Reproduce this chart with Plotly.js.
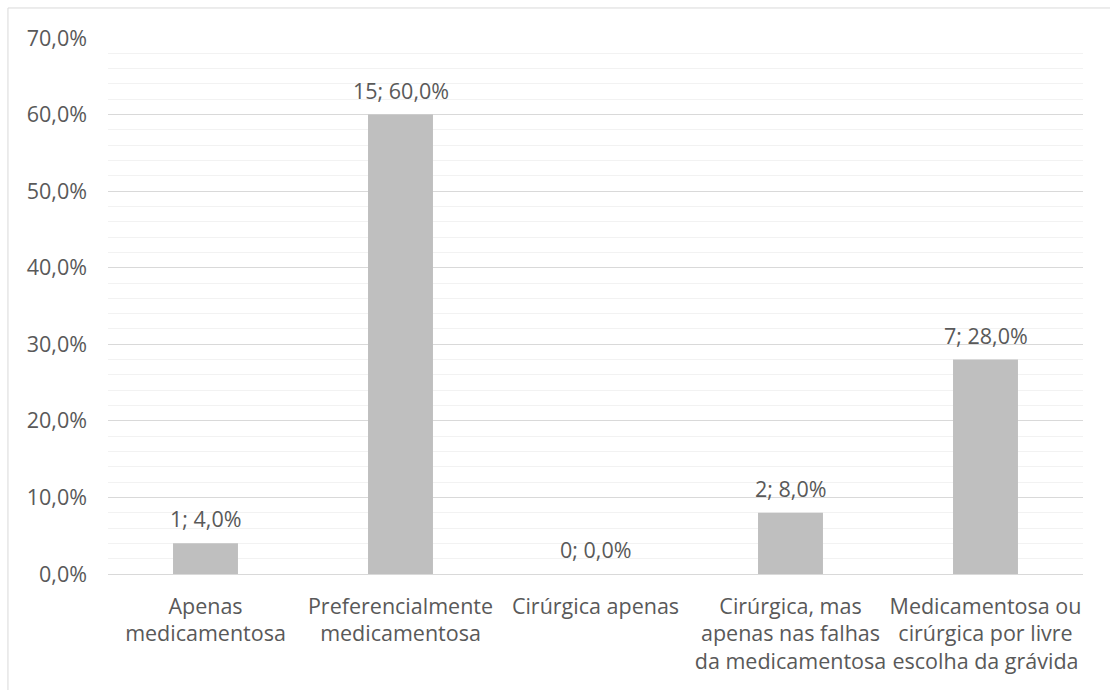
<!DOCTYPE html>
<html>
<head>
<meta charset="utf-8">
<script src="https://cdn.plot.ly/plotly-3.0.1.min.js"></script>
<style>
html,body{margin:0;padding:0;background:#fff;}
#chart{width:1110px;height:690px;}
</style>
</head>
<body>
<div id="chart"></div>
<script>
const categories = [
  "Apenas<br>medicamentosa",
  "Preferencialmente<br>medicamentosa",
  "Cirúrgica apenas",
  "Cirúrgica, mas<br>apenas nas falhas<br>da medicamentosa",
  "Medicamentosa ou<br>cirúrgica por livre<br>escolha da grávida"
];
const counts = [1, 15, 0, 2, 7];
const percents = [0.04, 0.60, 0.00, 0.08, 0.28];

const labels = counts.map((c, i) => c + "; " + (percents[i] * 100).toFixed(1).replace(".", ",") + "%");

const textColor = "#595959";
const fontFam = "'Open Sans', sans-serif";
const fs = 21.5;

const trace = {
  type: "bar",
  x: categories,
  y: percents,
  marker: { color: "#bfbfbf" },
  cliponaxis: false,
  hoverinfo: "skip"
};

const annotations = categories.map((c, i) => ({
  x: c,
  y: percents[i],
  xref: "x",
  yref: "y",
  text: labels[i],
  showarrow: false,
  yanchor: "bottom",
  yshift: 8,
  font: { family: fontFam, size: fs, color: textColor }
}));

const layout = {
  width: 1110,
  height: 690,
  margin: { l: 108, r: 27, t: 38, b: 116, pad: 0 },
  paper_bgcolor: "#ffffff",
  plot_bgcolor: "#ffffff",
  separators: ",.",
  bargap: 0.667,
  showlegend: false,
  font: { family: fontFam, size: fs, color: textColor },
  annotations: annotations,
  xaxis: {
    automargin: false,
    showgrid: false,
    showline: false,
    ticks: "",
    ticklabelstandoff: 17,
    tickfont: { family: fontFam, size: fs, color: textColor },
    fixedrange: true
  },
  yaxis: {
    automargin: false,
    range: [0, 0.70],
    dtick: 0.10,
    tickformat: ".1%",
    showgrid: true,
    gridcolor: "#d9d9d9",
    gridwidth: 1,
    zeroline: true,
    zerolinecolor: "#d9d9d9",
    zerolinewidth: 1,
    showline: false,
    ticks: "",
    ticklabelstandoff: 20,
    tickfont: { family: fontFam, size: fs, color: textColor },
    minor: { dtick: 0.02, showgrid: true, gridcolor: "#f2f2f2", gridwidth: 1 },
    fixedrange: true
  },
  shapes: [
    { type: "line", xref: "paper", yref: "paper", x0: -0.1026, x1: -0.1026, y0: 1.056, y1: -0.5, line: { color: "#d9d9d9", width: 1 } },
    { type: "line", xref: "paper", yref: "paper", x0: -0.1026, x1: 1.2, y0: 1.056, y1: 1.056, line: { color: "#d9d9d9", width: 1 } }
  ]
};

Plotly.newPlot("chart", [trace], layout, { displayModeBar: false, staticPlot: true });
</script>
</body>
</html>
